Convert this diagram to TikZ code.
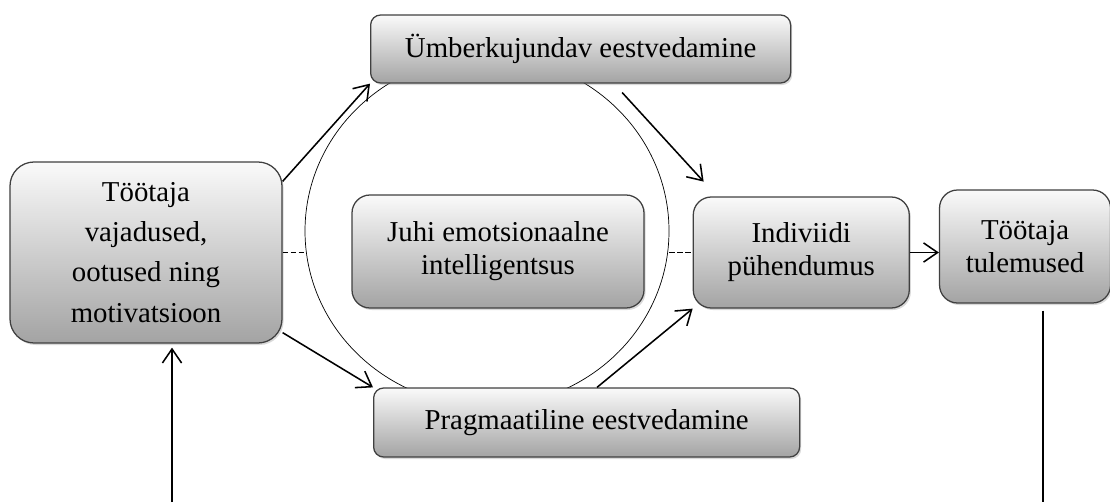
\documentclass[tikz,border=0pt]{standalone}
\usepackage{fontspec}
\setmainfont{Liberation Serif}
\usetikzlibrary{shapes.geometric, arrows.meta, positioning, shadows}

\begin{document}
\begin{tikzpicture}[auto,
    box/.style={rectangle, draw=gray!50!black, line width=0.9pt, top color=gray!4, bottom color=gray!72, align=center, text=black, font={\fontsize{20.5pt}{23.5pt}\selectfont}, drop shadow={shadow xshift=0.04cm, shadow yshift=-0.05cm, opacity=0.3}},
    bigbox/.style={box, rounded corners=0.6cm, font={\fontsize{20.5pt}{28.5pt}\selectfont}},
    midbox/.style={box, rounded corners=0.45cm},
    bar/.style={box, rounded corners=0.25cm, anchor=west, minimum height=1.7cm},
    ring/.style={draw, ellipse, line width=0.5pt, inner sep=0pt, minimum width=9.1cm, minimum height=8.75cm},
    line/.style={draw, line width=1.1pt, -{Straight Barb[length=3.5mm, width=4.8mm, line width=1.1pt]}},
    dashline/.style={draw, line width=1.2pt, dash pattern=on 0.13cm off 0.07cm},
    plain/.style={draw, line width=1.1pt}
]
    \useasboundingbox (0,0) rectangle (27.75,-12.55);

    % Ring behind the leadership styles
    \node [ring] (ring) at (12.175,-5.775) {};

    % Boxes
    \node [bigbox, minimum width=6.8cm, minimum height=4.525cm] (needs) at (3.65,-6.3125) {Töötaja\\vajadused,\\ootused ning\\motivatsioon};
    \node [midbox, minimum width=7.3cm, minimum height=2.825cm] (ei) at (12.45,-6.2875) {Juhi emotsionaalne\\intelligentsus};
    \node [midbox, minimum width=5.4cm, minimum height=2.775cm, right=1.2cm of ei, yshift=-0.025cm] (commit) {Indiviidi\\pühendumus};
    \node [midbox, minimum width=4.275cm, minimum height=2.825cm, right=0.725cm of commit, yshift=0.15cm] (outc) {Töötaja\\tulemused};

    \node [bar, minimum width=10.5cm] (transf) at (9.25,-1.225) {Ümberkujundav eestvedamine};
    \node [bar, minimum width=10.65cm, minimum height=1.725cm] (pragm) at (9.325,-10.5625) {Pragmaatiline eestvedamine};

    % Loose ends at the bottom edge
    \coordinate (fa) at (4.3,-12.55);
    \coordinate (fb) at (26.075,-12.55);

    % Connections
    \path [line] ([yshift=-0.5cm]needs.north east) -- (transf.south west);
    \path [line] ([yshift=0.275cm]needs.south east) -- (pragm.north west);
    \path [line, shorten <=0.3cm, shorten >=0.5cm] ([xshift=6.1cm]transf.south west) -- ([xshift=0.6125cm]commit.north west);
    \path [line] ([xshift=5.6cm]pragm.north west) -- (commit.south west);
    \path [line] (commit.east) -- (commit.east -| outc.west);
    \path [dashline] (needs.east) -- (needs.east -| ring.west);
    \path [dashline] (commit.west -| ring.east) -- (commit.west);
    \path [plain, shorten <=0.175cm] (fb |- outc.south) -- (fb);
    \path [line, shorten >=0.1cm] (fa) -- (fa |- needs.south);
\end{tikzpicture}
\end{document}
